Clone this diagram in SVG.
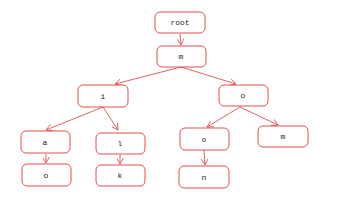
<svg xmlns="http://www.w3.org/2000/svg" width="356" height="200" viewBox="0 0 356 200">
<defs>
<style>
.n rect{fill:#fff;stroke:#e03131;stroke-width:1;opacity:.85}
.n text{font-family:"Liberation Mono",monospace;font-size:8px;fill:#1e1e1e;text-anchor:middle;dominant-baseline:central}
.c path{fill:none;stroke:#e03131;stroke-width:0.9;opacity:.85}
</style>
<marker id="ah" viewBox="0 0 10 10" refX="9" refY="5" markerWidth="7" markerHeight="7" orient="auto" markerUnits="userSpaceOnUse">
<path d="M0,0 L9,5 L0,10" fill="none" stroke="#e03131" stroke-width="1.2"/>
</marker>
</defs>
<rect width="356" height="200" fill="#fff"/>
<g class="c">
<path d="M180,34 L181,45" marker-end="url(#ah)"/>
<path d="M181,67 L115,84" marker-end="url(#ah)"/>
<path d="M181,67 L236,84" marker-end="url(#ah)"/>
<path d="M103,107 L46,130" marker-end="url(#ah)"/>
<path d="M103,107 L118,130" marker-end="url(#ah)"/>
<path d="M240,107 L207,127" marker-end="url(#ah)"/>
<path d="M240,107 L278,125" marker-end="url(#ah)"/>
<path d="M46,154 L46,163" marker-end="url(#ah)"/>
<path d="M120,155 L120,164" marker-end="url(#ah)"/>
<path d="M204,150 L205,165" marker-end="url(#ah)"/>
</g>
<g id="root" class="n"><rect x="155" y="12" width="50" height="21" rx="5"/><text x="180" y="22.5">root</text></g>
<g id="m1" class="n"><rect x="157" y="46" width="49" height="21" rx="5"/><text x="181" y="56.5">m</text></g>
<g id="i" class="n"><rect x="78" y="85" width="50" height="22" rx="5"/><text x="103" y="96">i</text></g>
<g id="o1" class="n"><rect x="219" y="85" width="49" height="21" rx="5"/><text x="243" y="95.5">o</text></g>
<g id="a" class="n"><rect x="21" y="131" width="49" height="22" rx="5"/><text x="45" y="142">a</text></g>
<g id="l" class="n"><rect x="96" y="133" width="49" height="21" rx="5"/><text x="120" y="143.5">l</text></g>
<g id="o2" class="n"><rect x="180" y="128" width="49" height="22" rx="5"/><text x="204" y="139">o</text></g>
<g id="m2" class="n"><rect x="258" y="126" width="50" height="21" rx="5"/><text x="283" y="136.5">m</text></g>
<g id="o3" class="n"><rect x="22" y="164" width="49" height="22" rx="5"/><text x="46" y="175">o</text></g>
<g id="k" class="n"><rect x="96" y="165" width="49" height="21" rx="5"/><text x="120" y="175.5">k</text></g>
<g id="n" class="n"><rect x="179" y="166" width="50" height="22" rx="5"/><text x="204" y="177">n</text></g>
</svg>
